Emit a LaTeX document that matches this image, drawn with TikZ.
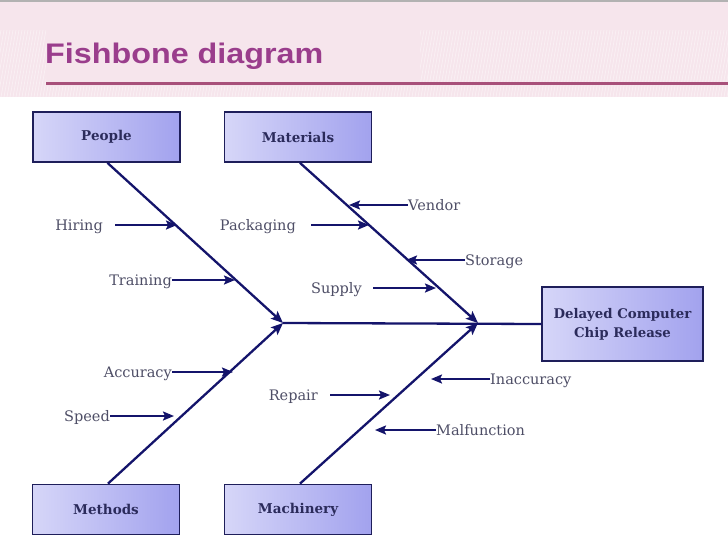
\documentclass[tikz,border=0pt]{standalone}
\usepackage{fontspec}
\usepackage{graphicx}
\setmainfont{DejaVu Serif}
\newfontfamily\titlefont{Liberation Sans}
\usetikzlibrary{arrows.meta,calc}
\definecolor{headerpink}{HTML}{F6E5EC}
\definecolor{titlepurple}{HTML}{9A3D8C}
\definecolor{headerline}{HTML}{A8507A}
\definecolor{navy}{HTML}{14146B}
\definecolor{boxborder}{HTML}{1E1E5A}
\definecolor{boxtext}{HTML}{2B2B5B}
\definecolor{boxlight}{HTML}{D6D6F8}
\definecolor{boxdark}{HTML}{A2A2EE}
\definecolor{labelgrey}{HTML}{4E4E66}
\tikzset{
  catbox/.style={draw=boxborder, line width=1.8pt, left color=boxlight, right color=boxdark,
    minimum width=147pt, minimum height=50pt, inner sep=0pt, text=boxtext,
    font=\bfseries\fontsize{13.5}{15}\selectfont},
  effectbox/.style={catbox, minimum width=161pt, minimum height=74pt, align=center,
    font=\bfseries\fontsize{13.3}{19}\selectfont},
  bone/.style={draw=navy, line width=2.3pt},
  bonearrow/.style={bone, -{Stealth[length=12pt,width=10pt,inset=2.5pt]}},
  subarrow/.style={draw=navy, line width=2pt, -{Stealth[length=11pt,width=9pt,inset=2pt]}},
  cause/.style={inner sep=0pt, text=labelgrey, font=\fontsize{14.5}{16}\selectfont, yshift=-2.5pt}
}
\begin{document}
\begin{tikzpicture}[x=1pt,y=-1pt]
\useasboundingbox (0,0) rectangle (728,546);
\fill[white] (0,0) rectangle (728,546);
% header
\fill[headerpink] (0,0) rectangle (728,97);
\begin{scope}
  \clip (0,30) rectangle (46,97) (420,30) rectangle (728,97) (0,86) rectangle (728,97);
  \foreach \i in {-20,-17,...,740} {
    \draw[white, opacity=0.4, line width=0.8pt] (\i,97) -- (\i+12,30);
  }
\end{scope}
\draw[gray!60, line width=1.5pt] (0,0.75) -- (728,0.75);
\node[anchor=base west, text=titlepurple, inner sep=0pt] (title) at (45,63)
  {\resizebox{278pt}{20.5pt}{\titlefont\bfseries Fishbone diagram}};
\draw[headerline, line width=2.5pt] (46,83.5) -- (728,83.5);

% category boxes
\node[catbox] (people) at (106.5,137) {People};
\node[catbox] (materials) at (298,137) {Materials};
\node[catbox] (methods) at (106,509.5) {Methods};
\node[catbox] (machinery) at (298,509.5) {Machinery};
\node[effectbox] (effect) at (622.5,324) {Delayed Computer\\Chip Release};

% junctions
\coordinate (j1) at (283,323);
\coordinate (j2) at (478,323);

% spine and bones
\draw[bone] (j1) -- (effect.west);
\draw[bonearrow] ([xshift=1pt]people.south) -- (j1);
\draw[bonearrow] ([xshift=2pt]methods.north) -- (j1);
\draw[bonearrow] ([xshift=2pt]materials.south) -- (j2);
\draw[bonearrow] ([xshift=2pt]machinery.north) -- (j2);

% cause labels
\node[cause, anchor=mid east] (hiring) at (103,225) {Hiring};
\node[cause, anchor=mid east] (training) at (172,280) {Training};
\node[cause, anchor=mid east] (packaging) at (296,225) {Packaging};
\node[cause, anchor=mid west] (vendor) at (408,205) {Vendor};
\node[cause, anchor=mid west] (storage) at (465,260) {Storage};
\node[cause, anchor=mid east] (supply) at (362,288) {Supply};
\node[cause, anchor=mid east] (accuracy) at (172,372) {Accuracy};
\node[cause, anchor=mid east] (speed) at (110,416) {Speed};
\node[cause, anchor=mid east] (repair) at (318,395) {Repair};
\node[cause, anchor=mid west] (inaccuracy) at (490,379) {Inaccuracy};
\node[cause, anchor=mid west] (malfunction) at (436,430) {Malfunction};

% arrow tips
\coordinate (thiring) at (177,225);
\coordinate (ttraining) at (235,280);
\coordinate (tpackaging) at (369,225);
\coordinate (tvendor) at (349,205);
\coordinate (tstorage) at (406,260);
\coordinate (tsupply) at (436,288);
\coordinate (taccuracy) at (233,372);
\coordinate (tspeed) at (174,416);
\coordinate (trepair) at (390,395);
\coordinate (tinaccuracy) at (431,379);
\coordinate (tmalfunction) at (375,430);

% cause arrows
\draw[subarrow] ($(hiring.mid east |- thiring)+(12,0)$) -- (thiring);
\draw[subarrow] (training.mid east |- ttraining) -- (ttraining);
\draw[subarrow] ($(packaging.mid east |- tpackaging)+(15,0)$) -- (tpackaging);
\draw[subarrow] (vendor.mid west |- tvendor) -- (tvendor);
\draw[subarrow] (storage.mid west |- tstorage) -- (tstorage);
\draw[subarrow] ($(supply.mid east |- tsupply)+(11,0)$) -- (tsupply);
\draw[subarrow] (accuracy.mid east |- taccuracy) -- (taccuracy);
\draw[subarrow] (speed.mid east |- tspeed) -- (tspeed);
\draw[subarrow] ($(repair.mid east |- trepair)+(12,0)$) -- (trepair);
\draw[subarrow] (inaccuracy.mid west |- tinaccuracy) -- (tinaccuracy);
\draw[subarrow] (malfunction.mid west |- tmalfunction) -- (tmalfunction);
\end{tikzpicture}
\end{document}
